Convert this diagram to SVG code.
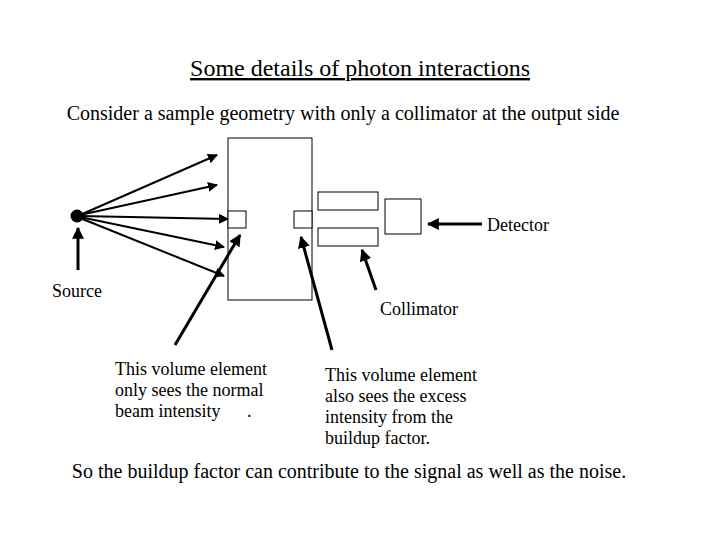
<svg xmlns="http://www.w3.org/2000/svg" width="720" height="540" viewBox="0 0 720 540">
<style>
text{font-family:"Liberation Serif",serif;fill:#000}
.s{font-size:18px}
.box{fill:#fff;stroke:#000;stroke-width:1}
.ray{stroke:#000;stroke-width:2;fill:none}
.pt{stroke:#000;stroke-width:3;fill:none}
</style>
<defs>
<marker id="a" viewBox="0 0 10 10" refX="9" refY="5" markerWidth="5" markerHeight="5" orient="auto"><path d="M0,0L10,5L0,10z" fill="#000"/></marker>
<marker id="b" viewBox="0 0 10 10" refX="9" refY="5" markerWidth="4" markerHeight="4" orient="auto"><path d="M0,0L10,5L0,10z" fill="#000"/></marker>
</defs>
<rect width="720" height="540" fill="#fff"/>
<text x="360" y="76" text-anchor="middle" font-size="24" text-decoration="underline">Some details of photon interactions</text>
<text x="343" y="120" text-anchor="middle" font-size="20">Consider a sample geometry with only a collimator at the output side</text>
<g id="sample"><rect class="box" x="228" y="138" width="84" height="162"/></g>
<g id="voxel1"><rect class="box" x="228" y="211" width="18" height="17"/></g>
<g id="voxel2"><rect class="box" x="294" y="211" width="18" height="17"/></g>
<g id="collimator"><rect class="box" x="318" y="192" width="60" height="18"/><rect class="box" x="318" y="228" width="60" height="18"/></g>
<g id="detector"><rect class="box" x="385" y="199" width="36" height="35"/></g>
<g id="source"><circle cx="77" cy="216" r="6.5" fill="#000"/></g>
<g id="connectors">
<line class="ray" x1="80" y1="215" x2="217" y2="155" marker-end="url(#a)"/>
<line class="ray" x1="80" y1="215" x2="217" y2="185" marker-end="url(#a)"/>
<line class="ray" x1="80" y1="216" x2="228" y2="219" marker-end="url(#a)"/>
<line class="ray" x1="80" y1="217" x2="224" y2="247" marker-end="url(#a)"/>
<line class="ray" x1="80" y1="218" x2="224" y2="276" marker-end="url(#a)"/>
<line class="pt" x1="78" y1="270" x2="78" y2="228" marker-end="url(#b)"/>
<line class="pt" x1="482" y1="224" x2="428" y2="224" marker-end="url(#b)"/>
<line class="pt" x1="175" y1="345" x2="240" y2="235" marker-end="url(#b)"/>
<line class="pt" x1="332" y1="350" x2="301" y2="237" marker-end="url(#b)"/>
<line class="pt" x1="376" y1="290" x2="362" y2="250" marker-end="url(#b)"/>
</g>
<text class="s" x="487" y="231">Detector</text>
<text class="s" x="52" y="297">Source</text>
<text class="s" x="380" y="315">Collimator</text>
<text class="s" x="115" y="375">This volume element</text>
<text class="s" x="115" y="396">only sees the normal</text>
<text class="s" x="115" y="417">beam intensity <tspan dx="22">.</tspan></text>
<text class="s" x="325" y="381">This volume element</text>
<text class="s" x="325" y="402">also sees the excess</text>
<text class="s" x="325" y="423">intensity from the</text>
<text class="s" x="325" y="444">buildup factor.</text>
<text x="349" y="478" text-anchor="middle" font-size="20">So the buildup factor can contribute to the signal as well as the noise.</text>
</svg>
